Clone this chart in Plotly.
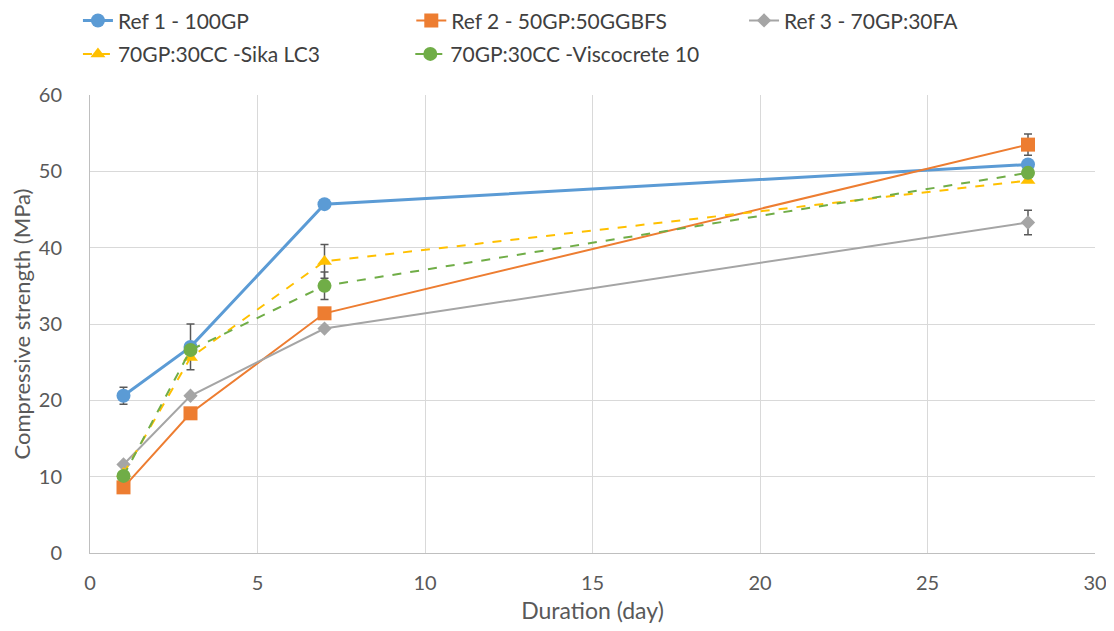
import plotly.graph_objects as go

days = [1, 3, 7, 28]
ref1 = [20.6, 27.0, 45.7, 50.9]
ref2 = [8.6, 18.3, 31.4, 53.5]
ref3 = [11.6, 20.6, 29.4, 43.3]
sika = [10.4, 25.6, 38.2, 48.8]
visco = [10.1, 26.6, 35.0, 49.8]

err_ref1 = [1.1, 3.0, 0.0, 0.6]
err_ref2 = [0.0, 0.0, 0.7, 1.4]
err_ref3 = [0.0, 0.0, 0.0, 1.6]
err_sika = [0.0, 0.0, 2.2, 0.0]
err_visco = [0.0, 0.0, 1.8, 0.0]

names = ["Ref 1 - 100GP", "Ref 2 - 50GP:50GGBFS", "Ref 3 - 70GP:30FA",
         "70GP:30CC -Sika LC3", "70GP:30CC -Viscocrete 10"]

series = [
    (ref1, err_ref1, "#5B9BD5", "circle", 14, "solid", 3),
    (ref2, err_ref2, "#ED7D31", "square", 14, "solid", 2),
    (ref3, err_ref3, "#A5A5A5", "diamond", 11, "solid", 2),
    (sika, err_sika, "#FFC000", "triangle-up", 13, "dash", 2),
    (visco, err_visco, "#70AD47", "circle", 14, "dash", 2),
]

legend_ids = ["legend", "legend2", "legend3", "legend4", "legend5"]
legend_pos = [(-0.012, 1.162), (0.3197, 1.162), (0.6508, 1.162),
              (-0.012, 1.089), (0.3187, 1.089)]

fig = go.Figure()
for name, (vals, errs, color, sym, size, dash, lw), leg in zip(names, series, legend_ids):
    fig.add_trace(go.Scatter(
        x=days, y=vals, name=name, mode="lines+markers",
        line=dict(color=color, width=lw, dash=dash),
        marker=dict(color=color, symbol=sym, size=size),
        error_y=dict(type="data", array=errs, visible=True,
                     color="#595959", thickness=1.5, width=4),
        legend=leg, showlegend=True,
    ))

font = "Lato, 'Open Sans', sans-serif"
layout_legends = {}
for leg, (lx, ly) in zip(legend_ids, legend_pos):
    layout_legends[leg] = dict(orientation="h", x=lx, xanchor="left", y=ly, yanchor="middle",
                               font=dict(size=21, color="#404040"), itemwidth=30,
                               bgcolor="rgba(0,0,0,0)", visible=True)

fig.update_layout(
    width=1106, height=623,
    showlegend=True,
    margin=dict(l=82, r=19, t=87, b=78, autoexpand=False),
    plot_bgcolor="white", paper_bgcolor="white",
    font=dict(family=font, size=19, color="#595959"),
    xaxis=dict(range=[0, 30], dtick=5, showgrid=True, gridcolor="#D9D9D9",
               showline=True, linecolor="#BFBFBF", zeroline=False,
               ticks="", ticklabelstandoff=12,
               title=dict(text="Duration (day)", standoff=9, font=dict(size=23)),
               tickfont=dict(size=20)),
    yaxis=dict(range=[0, 60], dtick=10, showgrid=True, gridcolor="#D9D9D9",
               showline=True, linecolor="#BFBFBF", zeroline=False,
               ticks="", ticklabelstandoff=23,
               title=dict(text="Compressive strength (MPa)", standoff=6, font=dict(size=22)),
               tickfont=dict(size=20)),
    **layout_legends,
)

fig.write_html("out.html")
